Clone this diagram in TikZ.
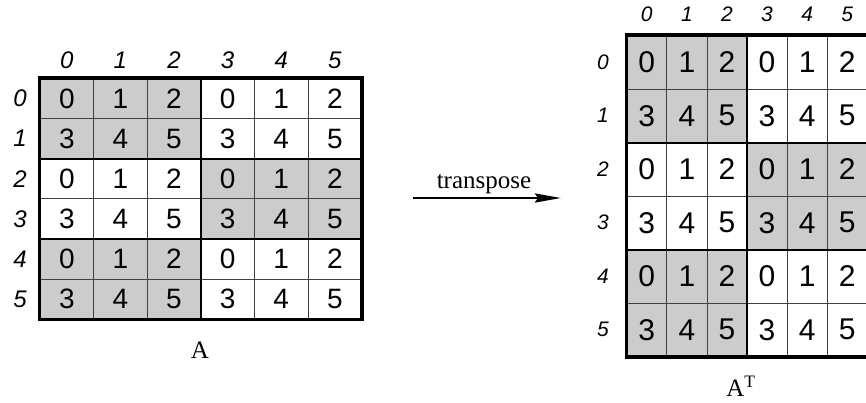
\documentclass[tikz,border=0pt]{standalone}
\usepackage{fontspec}
\setmainfont{Liberation Serif}
\setsansfont{Liberation Sans}
\usetikzlibrary{arrows.meta}
\definecolor{cellgray}{RGB}{204,204,204}
\tikzset{
  cellbase/.style={draw=black!75, line width=0.8pt, inner sep=0pt, anchor=center, font=\sffamily},
  cellL/.style={cellbase, minimum width=53.6pt, minimum height=40.1pt, font=\sffamily\fontsize{28}{28}\selectfont},
  cellR/.style={cellbase, minimum width=40.1pt, minimum height=53.5pt, font=\sffamily\fontsize{30}{30}\selectfont},
  idxL/.style={inner sep=0pt, font=\sffamily\itshape\fontsize{24}{24}\selectfont},
  idxR/.style={inner sep=0pt, font=\sffamily\itshape\fontsize{21}{21}\selectfont},
  blockline/.style={line width=2pt, black},
  outerline/.style={line width=3.6pt, black, line join=miter},
  caption/.style={inner sep=0pt, font=\rmfamily\fontsize{25}{25}\selectfont},
  arrowline/.style={line width=2.6pt, -{Stealth[length=26pt,width=9pt,inset=3pt]}}
}
\begin{document}
\begin{tikzpicture}[x=1pt,y=-1pt]
\useasboundingbox (0,0) rectangle (866,402);
% left matrix
\foreach \r in {0,...,5}{
  \foreach \c in {0,...,5}{
    \pgfmathtruncatemacro{\v}{mod(\r,2)*3+mod(\c,3)}
    \pgfmathtruncatemacro{\sh}{mod(floor(\r/2)+floor(\c/3),2)}
    \ifnum\sh=0 \def\fc{cellgray}\else\def\fc{white}\fi
    \node[cellL, fill=\fc] (L-\r-\c) at ({40+53.6*(\c+0.5)},{78.5+40.1*(\r+0.5)}) {\v};
  }
}
\foreach \c in {0,...,5}{
  \node[idxL] (LC-\c) at ({40+53.6*(\c+0.5)},60) {\c};
}
\foreach \r in {0,...,5}{
  \node[idxL] (LR-\r) at (20,{78.5+40.1*(\r+0.5)}) {\r};
}
\draw[blockline] (L-0-2.north east) -- (L-5-2.south east);
\draw[blockline] (L-1-0.south west) -- (L-1-5.south east);
\draw[blockline] (L-3-0.south west) -- (L-3-5.south east);
\draw[outerline] (L-0-0.north west) rectangle (L-5-5.south east);
% right matrix
\foreach \r in {0,...,5}{
  \foreach \c in {0,...,5}{
    \pgfmathtruncatemacro{\v}{mod(\r,2)*3+mod(\c,3)}
    \pgfmathtruncatemacro{\sh}{mod(floor(\r/2)+floor(\c/3),2)}
    \ifnum\sh=0 \def\fc{cellgray}\else\def\fc{white}\fi
    \node[cellR, fill=\fc] (R-\r-\c) at ({626.7+40.1*(\c+0.5)},{35.5+53.5*(\r+0.5)}) {\v};
  }
}
\foreach \c in {0,...,5}{
  \node[idxR] (RC-\c) at ({626.7+40.1*(\c+0.5)},14) {\c};
}
\foreach \r in {0,...,5}{
  \node[idxR] (RR-\r) at (603,{35.5+53.5*(\r+0.5)}) {\r};
}
\draw[blockline] (R-0-2.north east) -- (R-5-2.south east);
\draw[blockline] (R-1-0.south west) -- (R-1-5.south east);
\draw[blockline] (R-3-0.south west) -- (R-3-5.south east);
\draw[outerline] (R-0-0.north west) rectangle (R-5-5.south east);
% captions
\node[caption] (capA) at (200,350) {A};
\node[caption] (capAT) at (741,386) {A\textsuperscript{T}};
% arrow
\coordinate (arrS) at (413,198);
\coordinate (arrE) at (561,198);
\draw[arrowline] (arrS) -- (arrE);
\node[caption, anchor=base] (lblT) at (484,188) {transpose};
\end{tikzpicture}
\end{document}
